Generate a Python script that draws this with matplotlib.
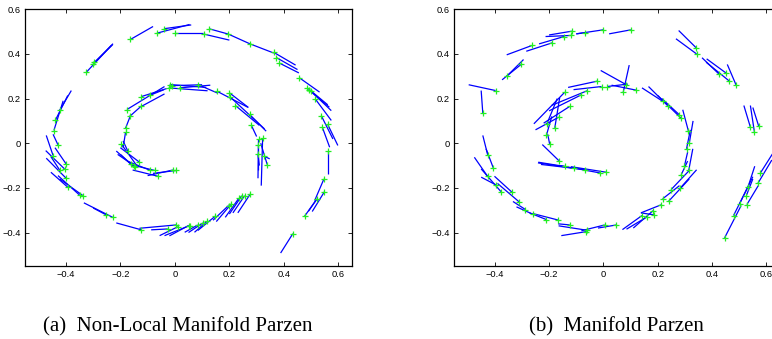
import matplotlib
matplotlib.use("Agg")
import matplotlib.pyplot as plt
import numpy as np

# ---- Panel (a): Non-Local Manifold Parzen : point (px,py) and tangent end (qx,qy)
a_px = [-0.325,-0.301,-0.295,-0.163,-0.066,-0.040,0.001,0.106,0.125,0.196,0.276,0.363,0.372,0.382,
        0.457,0.486,0.492,0.500,0.516,0.537,0.541,0.561,0.561,0.547,0.549,0.521,0.476,0.433,
        0.277,0.256,0.246,0.235,0.207,0.197,0.148,0.117,0.103,0.084,0.050,0.054,0.005,-0.026,0.011,
        -0.123,-0.228,-0.252,-0.337,-0.350,-0.393,-0.399,-0.405,-0.399,-0.423,-0.447,-0.429,-0.444,-0.439,-0.423,
        0.005,-0.007,-0.062,-0.074,-0.093,-0.130,-0.148,-0.172,-0.197,-0.160,-0.150,-0.181,-0.181,-0.166,-0.176,
        -0.123,-0.093,-0.123,-0.019,-0.023,0.017,-0.010,0.084,0.156,0.200,0.204,0.222,0.274,0.280,
        0.307,0.322,0.305,0.305,0.327,0.339]
a_py = [0.318,0.353,0.363,0.465,0.493,0.513,0.493,0.489,0.513,0.489,0.445,0.407,0.384,0.360,
        0.293,0.248,0.239,0.232,0.197,0.124,0.072,0.084,-0.036,-0.160,-0.217,-0.250,-0.327,-0.405,
        -0.227,-0.235,-0.235,-0.246,-0.272,-0.279,-0.327,-0.350,-0.357,-0.366,-0.369,-0.369,-0.366,-0.384,-0.374,
        -0.388,-0.332,-0.321,-0.235,-0.232,-0.197,-0.157,-0.115,-0.093,-0.120,-0.055,-0.007,0.057,0.102,0.147,
        -0.122,-0.120,-0.148,-0.122,-0.120,-0.085,-0.108,-0.037,-0.003,-0.095,-0.100,0.049,0.067,0.120,0.151,
        0.209,0.214,0.165,0.263,0.248,0.248,0.258,0.263,0.232,0.226,0.206,0.169,0.129,0.082,
        0.017,0.022,-0.007,-0.048,-0.058,-0.096]
a_qx = [-0.227,-0.232,-0.228,-0.080,0.054,0.060,0.103,0.200,0.196,0.276,0.363,0.443,0.450,0.455,
        0.531,0.561,0.567,0.574,0.574,0.580,0.568,0.598,0.561,0.513,0.504,0.490,0.521,0.388,
        0.231,0.213,0.200,0.185,0.152,0.140,0.084,0.072,0.050,0.036,-0.020,-0.038,-0.130,-0.087,-0.056,
        -0.215,-0.334,-0.300,-0.423,-0.429,-0.455,-0.472,-0.474,-0.440,-0.455,-0.472,-0.447,-0.410,-0.393,-0.380,
        -0.080,-0.100,-0.155,-0.165,-0.175,-0.200,-0.200,-0.190,-0.140,-0.215,-0.210,-0.190,-0.163,-0.120,-0.038,
        -0.030,-0.040,-0.038,0.115,0.120,0.130,0.100,0.158,0.268,0.270,0.329,0.310,0.335,0.300,
        0.305,0.317,0.305,0.310,0.348,0.315]
a_qy = [0.446,0.440,0.442,0.523,0.532,0.530,0.493,0.462,0.489,0.445,0.404,0.350,0.330,0.315,
        0.229,0.172,0.161,0.146,0.102,0.019,-0.018,-0.010,-0.137,-0.257,-0.306,-0.305,-0.250,-0.492,
        -0.312,-0.312,-0.317,-0.332,-0.351,-0.345,-0.391,-0.399,-0.400,-0.399,-0.415,-0.414,-0.381,-0.388,-0.414,
        -0.357,-0.267,-0.290,-0.160,-0.145,-0.130,-0.067,-0.033,-0.020,-0.060,0.035,0.040,0.190,0.214,0.236,
        -0.135,-0.145,-0.120,-0.095,-0.080,-0.020,-0.050,0.010,-0.100,-0.035,-0.050,-0.020,0.124,0.170,0.254,
        0.245,0.240,0.221,0.250,0.235,0.260,0.262,0.224,0.161,0.160,0.064,0.080,0.054,0.030,
        -0.157,-0.190,-0.120,-0.100,-0.070,0.000]

# ---- Panel (b): Manifold Parzen
b_px = [-0.397,-0.444,-0.356,-0.303,-0.263,-0.188,-0.145,-0.118,-0.116,-0.068,-0.001,0.101,
        0.341,0.343,0.427,0.452,0.464,0.489,0.541,0.556,0.572,0.578,0.569,0.532,0.526,0.528,0.501,0.479,0.446,
        -0.426,-0.405,-0.426,-0.395,-0.377,-0.336,-0.309,-0.287,-0.260,-0.210,-0.167,-0.124,-0.063,-0.060,
        0.005,0.048,0.142,0.162,0.187,0.183,0.212,0.218,0.240,0.249,0.282,0.286,0.314,0.298,0.306,0.316,
        0.313,0.286,0.280,0.236,0.218,0.083,0.073,0.120,-0.023,-0.007,0.014,-0.081,-0.124,-0.164,
        -0.179,-0.208,-0.210,-0.142,-0.060,
        -0.198,-0.164,-0.143,-0.109,-0.069,-0.013,0.011]
b_py = [0.236,0.135,0.300,0.353,0.438,0.450,0.478,0.483,0.502,0.495,0.508,0.508,
        0.428,0.400,0.308,0.314,0.278,0.259,0.072,0.049,0.075,-0.133,-0.179,-0.197,-0.235,-0.275,-0.272,-0.324,-0.424,
        -0.052,-0.112,-0.149,-0.187,-0.217,-0.220,-0.264,-0.297,-0.318,-0.342,-0.344,-0.366,-0.396,-0.390,
        -0.366,-0.366,-0.324,-0.329,-0.321,-0.302,-0.276,-0.249,-0.260,-0.208,-0.202,-0.142,-0.122,-0.103,-0.025,0.000,
        0.054,0.112,0.127,0.169,0.188,0.263,0.229,0.238,0.278,0.254,0.254,0.217,0.165,0.117,
        0.069,0.087,0.035,0.229,0.235,
        -0.003,-0.078,-0.104,-0.112,-0.118,-0.133,-0.130]
b_qx = [-0.496,-0.450,-0.294,-0.373,-0.356,-0.284,-0.237,-0.213,-0.200,-0.100,-0.100,0.021,
        0.277,0.267,0.363,0.380,0.378,0.456,0.517,0.541,0.550,0.630,0.620,0.557,0.550,0.570,0.550,0.530,0.507,
        -0.444,-0.432,-0.475,-0.450,-0.450,-0.401,-0.390,-0.333,-0.320,-0.272,-0.260,-0.167,-0.155,-0.165,
        -0.081,-0.020,0.070,0.085,0.138,0.110,0.138,0.280,0.316,0.316,0.343,0.310,0.329,0.310,0.320,0.330,
        0.292,0.200,0.215,0.166,0.142,-0.010,0.095,0.030,-0.130,-0.110,0.090,-0.200,-0.220,-0.250,
        -0.161,-0.170,-0.190,-0.256,-0.190,
        -0.205,-0.225,-0.240,-0.241,-0.230,-0.160,-0.120]
b_qy = [0.262,0.236,0.375,0.284,0.396,0.412,0.445,0.478,0.485,0.490,0.490,0.490,
        0.505,0.468,0.383,0.378,0.363,0.353,0.169,0.169,0.160,-0.033,-0.075,-0.103,-0.160,-0.190,-0.150,-0.200,-0.279,
        0.035,-0.025,-0.063,-0.152,-0.115,-0.148,-0.180,-0.261,-0.285,-0.312,-0.315,-0.361,-0.414,-0.370,
        -0.392,-0.380,-0.387,-0.385,-0.312,-0.380,-0.312,-0.190,-0.160,-0.122,-0.119,-0.080,-0.025,-0.040,0.060,0.100,
        0.150,0.214,0.200,0.254,0.248,0.326,0.350,0.260,0.250,0.240,0.265,0.145,0.090,0.060,
        0.204,0.200,0.120,0.087,0.170,
        0.040,-0.006,-0.085,-0.088,-0.095,-0.100,-0.105]

xticks = [-0.4, -0.2, 0, 0.2, 0.4, 0.6]
yticks = [-0.4, -0.2, 0, 0.2, 0.4, 0.6]
tick_labels = ["\u22120.4", "\u22120.2", "0", "0.2", "0.4", "0.6"]
captions = ["(a)  Non-Local Manifold Parzen", "(b)  Manifold Parzen"]

W, H = 772, 339
fig = plt.figure(figsize=(W / 100, H / 100), dpi=100)

def panel(rect, px, py, qx, qy):
    ax = fig.add_axes(rect)
    for x0, y0, x1, y1 in zip(px, py, qx, qy):
        ax.plot([x0, x1], [y0, y1], color="#0000ff", lw=0.9, solid_capstyle="butt")
    ax.plot(px, py, linestyle="none", marker="+", color="#22ee22", ms=4.5, mew=0.9)
    ax.set_xlim(-0.55, 0.65)
    ax.set_ylim(-0.55, 0.6)
    ax.set_xticks(xticks)
    ax.set_yticks(yticks)
    ax.set_xticklabels(tick_labels, family="Liberation Sans")
    ax.set_yticklabels(tick_labels, family="Liberation Sans")
    ax.tick_params(direction="in", length=3, width=0.6, labelsize=6.7, top=True, right=True, pad=3)
    for s in ax.spines.values():
        s.set_linewidth(0.9)
    return ax

bot = (H - 266) / H
hgt = (266 - 9.3) / H
panel([25 / W, bot, 327 / W, hgt], a_px, a_py, a_qx, a_qy)
panel([454 / W, bot, 326 / W, hgt], b_px, b_py, b_qx, b_qy)

fig.text(178 / W, 1 - 331 / H, captions[0], ha="center", va="baseline",
         family="Liberation Serif", fontsize=15)
fig.text(616 / W, 1 - 331 / H, captions[1], ha="center", va="baseline",
         family="Liberation Serif", fontsize=15)

fig.savefig("out.png", dpi=100)
